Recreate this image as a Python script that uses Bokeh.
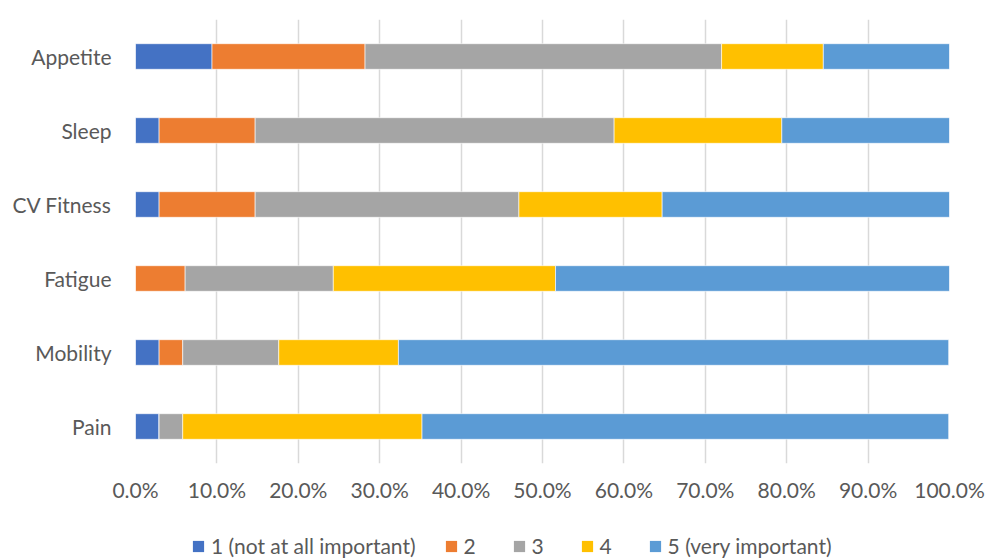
from bokeh.plotting import figure
from bokeh.layouts import column
from bokeh.models import ColumnDataSource, FactorRange, Range1d, NumeralTickFormatter, FixedTicker, Legend, LegendItem
from bokeh.embed import file_html
from bokeh.resources import INLINE

categories = ["Appetite", "Sleep", "CV Fitness", "Fatigue", "Mobility", "Pain"]
series_names = ["1 (not at all important)", "2", "3", "4", "5 (very important)"]
s1 = [9.4, 2.9, 2.9, 0.0, 2.9, 2.9]
s2 = [18.8, 11.8, 11.8, 6.1, 2.9, 0.0]
s3 = [43.8, 44.1, 32.4, 18.2, 11.8, 2.9]
s4 = [12.5, 20.6, 17.6, 27.3, 14.7, 29.4]
s5 = [15.6, 20.6, 35.3, 48.5, 67.6, 64.7]
colors = ["#4472C4", "#ED7D31", "#A5A5A5", "#FFC000", "#5B9BD5"]
x_ticks = [0.0, 0.1, 0.2, 0.3, 0.4, 0.5, 0.6, 0.7, 0.8, 0.9, 1.0]

FONT = "Lato"
TXT = "#595959"

keys = ["s1", "s2", "s3", "s4", "s5"]
data = {"cat": categories}
for k, s in zip(keys, [s1, s2, s3, s4, s5]):
    data[k] = [v / 100.0 for v in s]
src = ColumnDataSource(data)

p = figure(width=987, height=515, output_backend="svg", toolbar_location=None,
           y_range=FactorRange(*reversed(categories), range_padding=0),
           x_range=Range1d(0, 1),
           min_border_left=135, min_border_right=38, min_border_top=19, min_border_bottom=52)
p.outline_line_color = None
p.background_fill_color = "white"
p.border_fill_color = "white"

renderers = p.hbar_stack(keys, y="cat", height=0.346, color=colors, source=src,
                         line_color="white", line_width=0.6)

p.xaxis.ticker = FixedTicker(ticks=x_ticks)
p.xaxis.formatter = NumeralTickFormatter(format="0.0%")
p.xaxis.axis_line_color = None
p.xaxis.major_tick_line_color = None
p.xaxis.minor_tick_line_color = None
p.xaxis.major_tick_out = 0
p.xaxis.major_label_standoff = 13
p.xaxis.major_label_text_font = FONT
p.xaxis.major_label_text_font_size = "21px"
p.xaxis.major_label_text_color = TXT

p.yaxis.axis_line_color = None
p.yaxis.major_tick_line_color = None
p.yaxis.minor_tick_line_color = None
p.yaxis.major_tick_out = 0
p.yaxis.major_label_standoff = 24
p.yaxis.major_label_text_font = FONT
p.yaxis.major_label_text_font_size = "21px"
p.yaxis.major_label_text_color = TXT

p.ygrid.grid_line_color = None
p.xgrid.grid_line_color = "#D9D9D9"
p.xgrid.grid_line_width = 1.5

# legend strip below the chart (swatch renderers sit outside the strip's visible range)
lp = figure(width=987, height=43, output_backend="svg", toolbar_location=None,
            x_range=Range1d(0, 1), y_range=Range1d(0, 1),
            min_border_left=0, min_border_right=0, min_border_top=0, min_border_bottom=0)
lp.axis.visible = False
lp.grid.visible = False
lp.outline_line_color = None
lp.border_fill_color = "white"
leg_renderers = []
for c in colors:
    leg_src = ColumnDataSource(dict(y=[-5], left=[0], right=[0], fc=[c]))
    leg_renderers.append(lp.hbar(y="y", left="left", right="right", height=1,
                                 fill_color="fc", line_color=None, source=leg_src))

legend = Legend(items=[LegendItem(label=n, renderers=[r]) for n, r in zip(series_names, leg_renderers)],
                orientation="horizontal", location=(56, 0),
                label_text_font=FONT, label_text_font_size="21px", label_text_color=TXT,
                glyph_width=14, glyph_height=14, label_standoff=6, spacing=28,
                padding=0, margin=0, border_line_color=None, background_fill_alpha=0)
lp.add_layout(legend, "center")

layout = column(p, lp, spacing=0)
open("out.html", "w").write(file_html(layout, INLINE))
